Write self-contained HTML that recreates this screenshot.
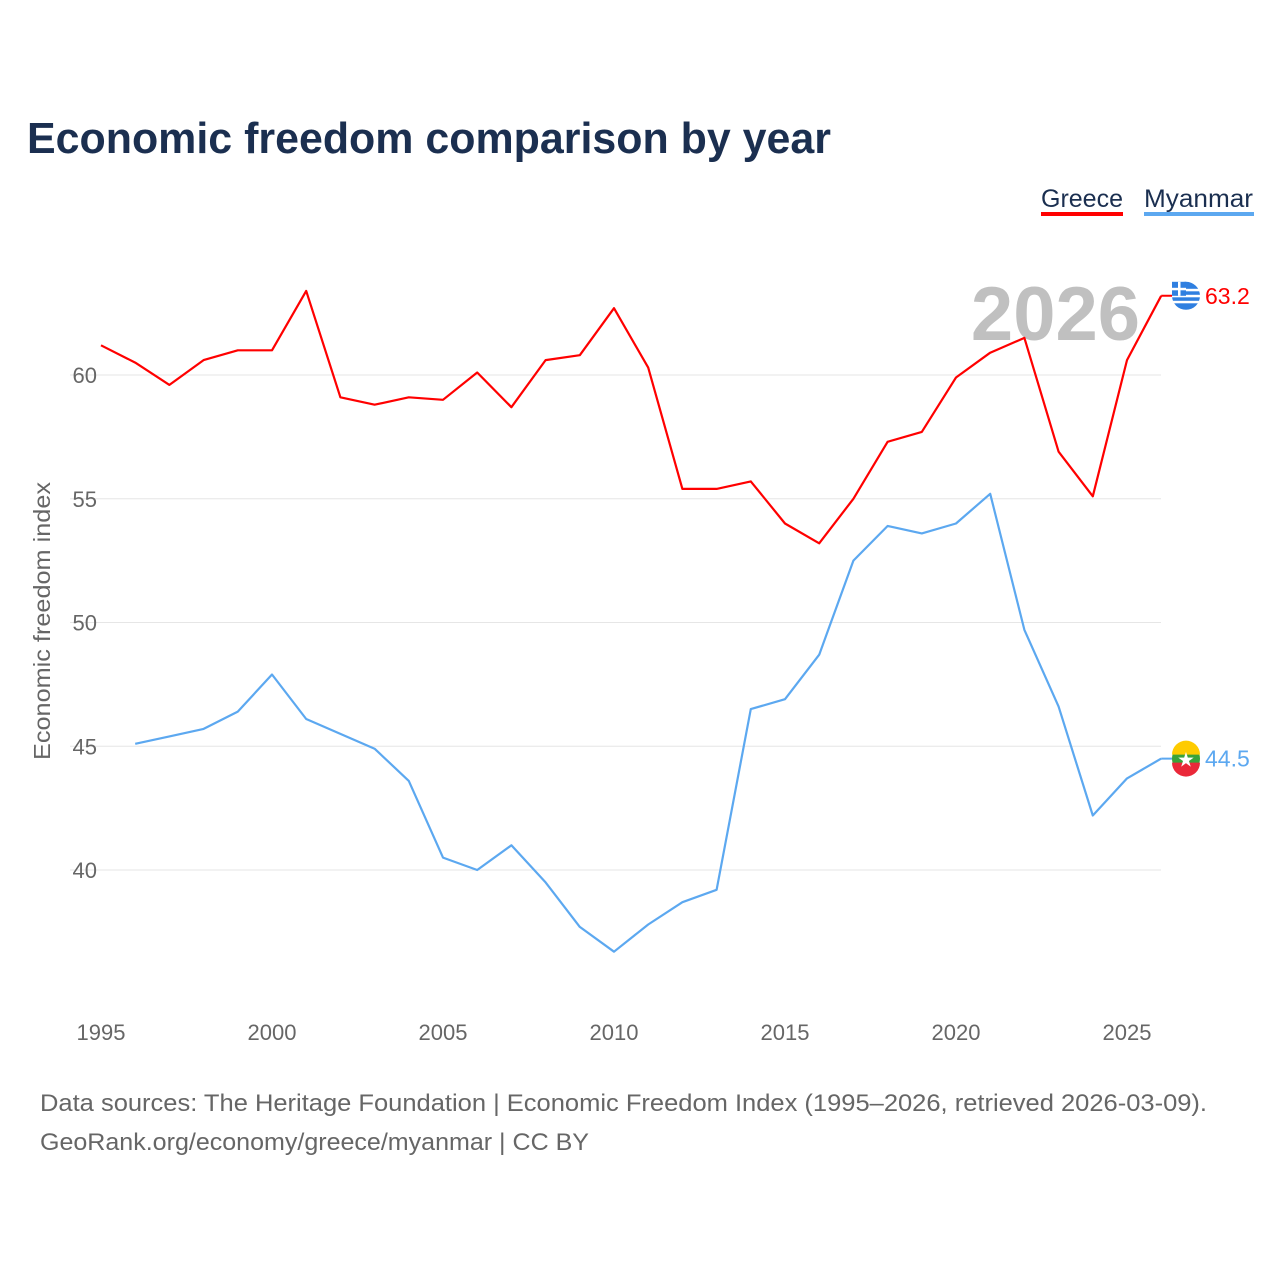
<!DOCTYPE html>
<html><head><meta charset="utf-8"><style>
body{margin:0;background:#fff;font-family:"Liberation Sans",sans-serif}
svg text{font-family:"Liberation Sans",sans-serif}
</style></head><body>
<svg width="1280" height="1280" viewBox="0 0 1280 1280" xmlns="http://www.w3.org/2000/svg">
<text x="27" y="153" font-size="44" font-weight="bold" fill="#1b2f50" textLength="804" lengthAdjust="spacingAndGlyphs">Economic freedom comparison by year</text>
<g>
<text x="1041" y="207" font-size="25" fill="#1b2f50" textLength="82" lengthAdjust="spacingAndGlyphs">Greece</text>
<rect x="1041" y="212" width="82" height="4" fill="#ff0000"/>
<text x="1144" y="207" font-size="25" fill="#1b2f50" textLength="109" lengthAdjust="spacingAndGlyphs">Myanmar</text>
<rect x="1144" y="212" width="110" height="4" fill="#5ca8f0"/>
</g>
<text x="1140" y="340" font-size="76" font-weight="bold" fill="#c0c0c0" text-anchor="end">2026</text>
<g id="grid"></g><g id="axes"></g><g id="lines"></g>
<text transform="translate(50,621) rotate(-90)" font-size="23" fill="#666" text-anchor="middle" textLength="278" lengthAdjust="spacingAndGlyphs">Economic freedom index</text>
<text x="40" y="1111" font-size="24" fill="#666" textLength="1167" lengthAdjust="spacingAndGlyphs">Data sources: The Heritage Foundation | Economic Freedom Index (1995–2026, retrieved 2026-03-09).</text>
<text x="40" y="1150" font-size="24" fill="#666" textLength="549" lengthAdjust="spacingAndGlyphs">GeoRank.org/economy/greece/myanmar | CC BY</text>
</svg>
<script>
const years=[1995,1996,1997,1998,1999,2000,2001,2002,2003,2004,2005,2006,2007,2008,2009,2010,2011,2012,2013,2014,2015,2016,2017,2018,2019,2020,2021,2022,2023,2024,2025,2026];
const greece=[61.2,60.5,59.6,60.6,61.0,61.0,63.4,59.1,58.8,59.1,59.0,60.1,58.7,60.6,60.8,62.7,60.3,55.4,55.4,55.7,54.0,53.2,55.0,57.3,57.7,59.9,60.9,61.5,56.9,55.1,60.6,63.2];
const myanmar=[null,45.1,45.4,45.7,46.4,47.9,46.1,45.5,44.9,43.6,40.5,40.0,41.0,39.5,37.7,36.7,37.8,38.7,39.2,46.5,46.9,48.7,52.5,53.9,53.6,54.0,55.2,49.7,46.6,42.2,43.7,44.5];
const yTicks=[40,45,50,55,60];
const xTicks=[1995,2000,2005,2010,2015,2020,2025];
const NS='http://www.w3.org/2000/svg';
const x=v=>101+(v-1995)*34.2;
const y=v=>870-(v-40)*24.75;
function mk(t,a,p){const e=document.createElementNS(NS,t);for(const k in a)e.setAttribute(k,a[k]);p.appendChild(e);return e;}
const grid=document.getElementById('grid'),axes=document.getElementById('axes'),lines=document.getElementById('lines');
yTicks.forEach(t=>{
 const l=mk('line',{x1:70,x2:1161,y1:y(t),y2:y(t),stroke:'#e6e6e6','stroke-width':1},grid);
 
 
 const tx=mk('text',{x:97,y:y(t)+8,'font-size':22,fill:'#666','text-anchor':'end'},axes);
 tx.textContent=t;
 
 
});
xTicks.forEach(t=>{
 const tx=mk('text',{x:x(t),y:1040,'font-size':22,fill:'#666','text-anchor':'middle'},axes);
 tx.textContent=t;
 
 
});
function path(data,color,name){
 let d='';data.forEach((v,i)=>{if(v==null)return;d+=(d?'L':'M')+x(years[i]).toFixed(1)+','+y(v).toFixed(1);});
 const p=mk('path',{d:d,fill:'none',stroke:color,'stroke-width':2.2,'stroke-linejoin':'round'},lines);
 
 
}
path(greece,'#ff0000','greece-line');
path(myanmar,'#5ca8f0','myanmar-line');
function endLabel(data,color,name,flag){
 const v=data[data.length-1],yy=y(v);
 mk('line',{x1:x(2026),x2:1180,y1:yy,y2:yy,stroke:color,'stroke-width':2},lines);
 const g=mk('g',{},lines);
 
 
 if(flag==='gr'){
  mk('circle',{cx:1186,cy:yy,r:14,fill:'#2f7fe0'},g);
  for(let i=-1;i<=1;i++)mk('rect',{x:1172,y:yy+i*6-1,width:28,height:2.5,fill:'#fff'},g);
  mk('rect',{x:1172,y:yy-14,width:14,height:14,fill:'#2f7fe0'},g);
  mk('rect',{x:1172,y:yy-8,width:14,height:2.5,fill:'#fff'},g);
  mk('rect',{x:1178,y:yy-14,width:2.5,height:14,fill:'#fff'},g);
 }else{
  mk('circle',{cx:1186,cy:yy,r:14,fill:'#3aa33a'},g);
  mk('path',{d:`M1172,${yy-4} A14,14 0 0 1 1200,${yy-4} Z`,fill:'#fecb00'},g);
  mk('path',{d:`M1172,${yy+4} A14,14 0 0 0 1200,${yy+4} Z`,fill:'#ea2839'},g);
  mk('text',{x:1186,y:yy+8,'font-size':20,fill:'#fff','text-anchor':'middle'},g).textContent='★';
 }
 const t=mk('text',{x:1205,y:yy+8,'font-size':23,fill:color},lines);
 t.textContent=v.toFixed(1);
 
 
}
endLabel(greece,'#ff0000','greece','gr');
endLabel(myanmar,'#5ca8f0','myanmar','mm');
</script>
</body></html>
